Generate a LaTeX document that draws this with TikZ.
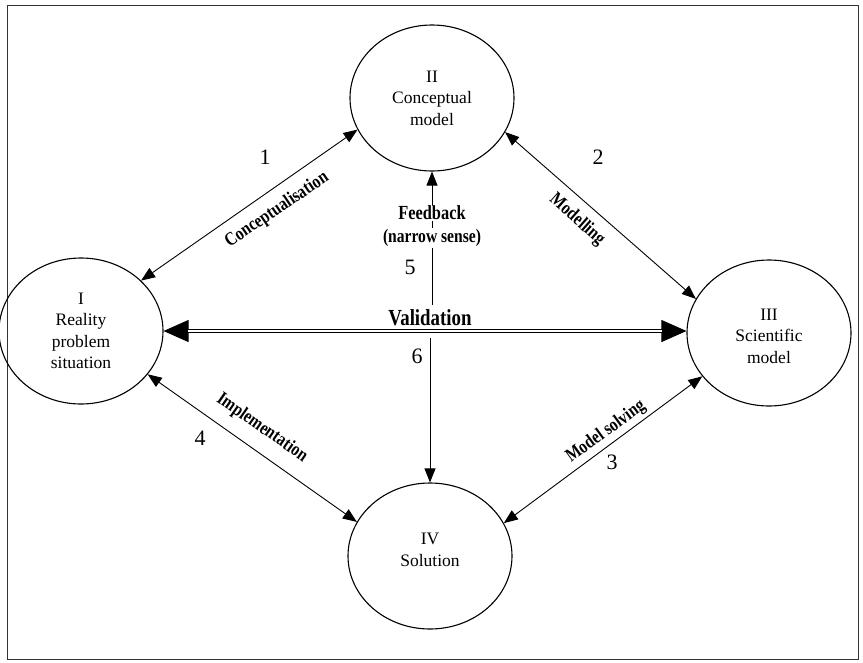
\documentclass[tikz,border=0pt]{standalone}
\usepackage{fontspec}
\setmainfont{Liberation Serif}
\usetikzlibrary{arrows.meta,shapes.geometric}
\newcommand{\narrowtext}[1]{\scalebox{0.82}[1]{#1}}
\begin{document}
\begin{tikzpicture}[x=1pt,y=-1pt,
  stage/.style={draw, line width=1.1pt, ellipse, minimum width=164pt, minimum height=146pt,
    inner sep=0pt, align=center, font=\fontsize{17.5}{21.5}\selectfont},
  link/.style={line width=0.9pt, {Triangle[length=14pt,width=11pt]}-{Triangle[length=14pt,width=11pt]}},
  oneway/.style={line width=0.9pt, -{Triangle[length=14pt,width=11pt]}},
  lab/.style={font=\bfseries\fontsize{19}{22}\selectfont, inner sep=1pt},
  num/.style={font=\fontsize{22}{24}\selectfont, inner sep=1pt}]
\useasboundingbox (0,0) rectangle (863,662);
\draw[line width=0.8pt, black!80] (7,5) rectangle (858,659);

\node[stage] (I) at (81,331) {I\\Reality\\problem\\situation};
\node[stage] (II) at (432,98) {II\\Conceptual\\model};
\node[stage] (III) at (769,333) {\mbox{}\\[-4pt]III\\Scientific\\model};
\node[stage] (IV) at (430,556) {IV\\Solution\\[-9.5pt]\mbox{}};

\draw[link] (I.40) -- (II.203);
\draw[link] (II.-25) -- (III.155);
\draw[link] (III.213) -- (IV.24);
\draw[link] (I.-33) -- (IV.155);

\draw[line width=0.8pt, {Triangle[length=25pt,width=22pt]}-{Triangle[length=25pt,width=22pt]}] (I.east) -- (III.west |- I.east);
\draw[double, double distance=1.8pt, line width=0.9pt, shorten <=24pt, shorten >=24pt] (I.east) -- (III.west |- I.east);

\coordinate (v5) at (432,305);
\coordinate (v6) at (430,338);
\draw[oneway] (v5) -- (II.south);
\draw[oneway] (v6) -- (IV.north);

\node[lab, rotate=34] (lc) at (277,210) {\narrowtext{Conceptualisation}};
\node[num] (n1) at (265,157) {1};
\node[lab, rotate=-41.6] (lm) at (577,220) {\narrowtext{Modelling}};
\node[num] (n2) at (598,157) {2};
\node[lab, rotate=36] (ls) at (606,432) {\narrowtext{Model solving}};
\node[num] (n3) at (612,462) {3};
\node[lab, rotate=-35] (li) at (262,428) {\narrowtext{Implementation}};
\node[num] (n4) at (200,438) {4};
\node[lab, fill=white, font=\bfseries\fontsize{20}{22}\selectfont] (fb) at (432,213) {\narrowtext{Feedback}};
\node[lab, fill=white] (ns) at (432,238) {\narrowtext{(narrow sense)}};
\node[num] (n5) at (410,267) {5};
\node[lab, font=\bfseries\fontsize{23}{25}\selectfont] (val) at (430,318) {\narrowtext{Validation}};
\node[num] (n6) at (417,356) {6};
\end{tikzpicture}
\end{document}
